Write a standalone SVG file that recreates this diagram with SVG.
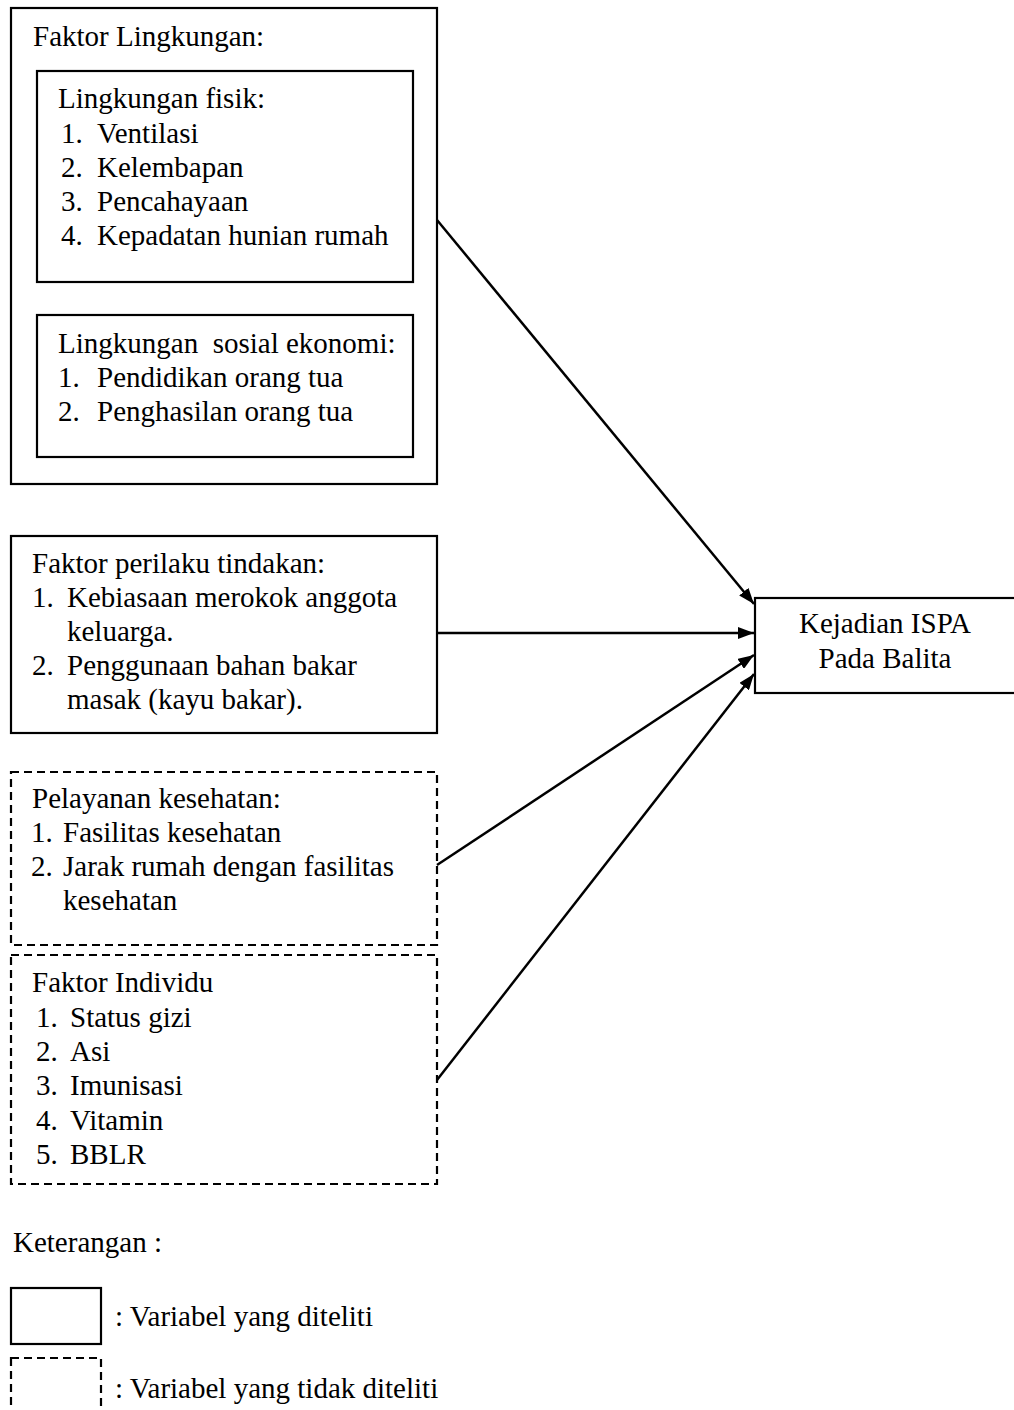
<svg xmlns="http://www.w3.org/2000/svg" width="1014" height="1410" viewBox="0 0 1014 1410" font-family="'Liberation Serif','Times New Roman',serif">
<style>
text{font-family:"Liberation Serif","Times New Roman",serif;font-size:29px;fill:#000}
.box{fill:#fff;stroke:#000;stroke-width:2.2}
.dash{fill:#fff;stroke:#000;stroke-width:2.2;stroke-dasharray:8 5}
.conn{stroke:#000;stroke-width:2.5;fill:none}
</style>
<defs>
<marker id="ah" viewBox="0 0 16 12" refX="16" refY="6" markerWidth="16" markerHeight="12" markerUnits="userSpaceOnUse" orient="auto">
<path d="M0,0 L16,6 L0,12 z" fill="#000"/>
</marker>
</defs>
<g id="faktor-lingkungan">
<rect class="box" x="11" y="8" width="426" height="476"/>
<text x="33" y="46">Faktor Lingkungan:</text>
</g>
<g id="lingkungan-fisik">
<rect class="box" x="37" y="71" width="376" height="211"/>
<text x="58" y="108">Lingkungan fisik:</text>
<text x="61" y="143">1.</text><text x="97" y="143">Ventilasi</text>
<text x="61" y="177">2.</text><text x="97" y="177">Kelembapan</text>
<text x="61" y="211">3.</text><text x="97" y="211">Pencahayaan</text>
<text x="61" y="245">4.</text><text x="97" y="245">Kepadatan hunian rumah</text>
</g>
<g id="lingkungan-sosial">
<rect class="box" x="37" y="315" width="376" height="142"/>
<text x="58" y="353" xml:space="preserve">Lingkungan  sosial ekonomi:</text>
<text x="58" y="387">1.</text><text x="97" y="387">Pendidikan orang tua</text>
<text x="58" y="421">2.</text><text x="97" y="421">Penghasilan orang tua</text>
</g>
<g id="faktor-perilaku">
<rect class="box" x="11" y="536" width="426" height="197"/>
<text x="32" y="573">Faktor perilaku tindakan:</text>
<text x="32" y="607">1.</text><text x="67" y="607">Kebiasaan merokok anggota</text>
<text x="67" y="641">keluarga.</text>
<text x="32" y="675">2.</text><text x="67" y="675">Penggunaan bahan bakar</text>
<text x="67" y="709">masak (kayu bakar).</text>
</g>
<g id="pelayanan-kesehatan">
<rect class="dash" x="11" y="772" width="426" height="173"/>
<text x="32" y="808">Pelayanan kesehatan:</text>
<text x="31" y="842">1.</text><text x="63" y="842">Fasilitas kesehatan</text>
<text x="31" y="876">2.</text><text x="63" y="876">Jarak rumah dengan fasilitas</text>
<text x="63" y="910">kesehatan</text>
</g>
<g id="faktor-individu">
<rect class="dash" x="11" y="955" width="426" height="229"/>
<text x="32" y="992">Faktor Individu</text>
<text x="36" y="1027">1.</text><text x="70" y="1027">Status gizi</text>
<text x="36" y="1061">2.</text><text x="70" y="1061">Asi</text>
<text x="36" y="1095">3.</text><text x="70" y="1095">Imunisasi</text>
<text x="36" y="1130">4.</text><text x="70" y="1130">Vitamin</text>
<text x="36" y="1164">5.</text><text x="70" y="1164">BBLR</text>
</g>
<g id="kejadian-ispa">
<rect class="box" x="755" y="598" width="270" height="95"/>
<text x="885" y="633" text-anchor="middle">Kejadian ISPA</text>
<text x="885" y="668" text-anchor="middle">Pada Balita</text>
</g>
<g id="connectors">
<line class="conn" x1="437" y1="220" x2="754" y2="604" marker-end="url(#ah)"/>
<line class="conn" x1="437" y1="633" x2="754" y2="633" marker-end="url(#ah)"/>
<line class="conn" x1="437" y1="865" x2="754" y2="655" marker-end="url(#ah)"/>
<line class="conn" x1="437" y1="1080" x2="754" y2="674" marker-end="url(#ah)"/>
</g>
<g id="legend">
<text x="13" y="1252">Keterangan :</text>
<rect class="box" x="11" y="1288" width="90" height="56"/>
<text x="115" y="1326">: Variabel yang diteliti</text>
<rect class="dash" x="11" y="1358" width="90" height="70"/>
<text x="115" y="1398">: Variabel yang tidak diteliti</text>
</g>
</svg>
